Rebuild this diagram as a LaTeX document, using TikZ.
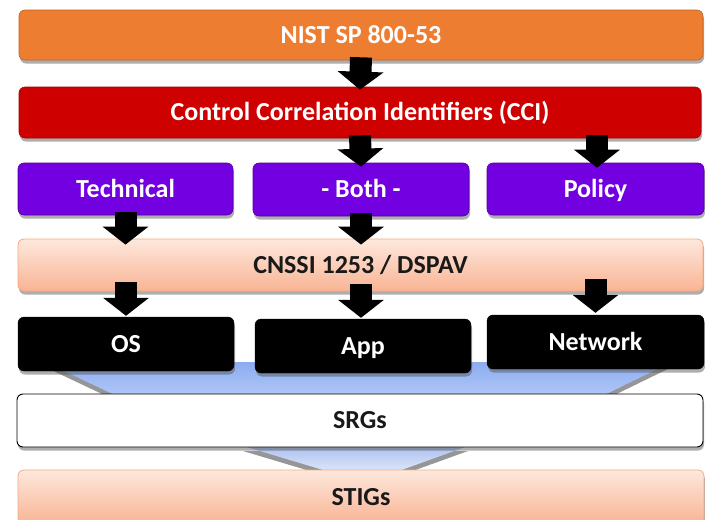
\documentclass[tikz,border=0pt]{standalone}
\usepackage{fontspec}
\setmainfont{Carlito}
\usetikzlibrary{arrows.meta,shadows,calc}
\definecolor{nistorange}{RGB}{237,125,49}
\definecolor{ccired}{RGB}{206,0,0}
\definecolor{purp}{RGB}{114,0,224}
\definecolor{salmontop}{RGB}{253,232,221}
\definecolor{salmonbot}{RGB}{249,180,148}
\definecolor{salmonedge}{RGB}{244,170,130}
\definecolor{bluetop}{RGB}{140,172,242}
\definecolor{bluebot}{RGB}{178,200,246}
\definecolor{blue2top}{RGB}{172,194,240}
\definecolor{blue2bot}{RGB}{222,230,250}
\definecolor{darktext}{RGB}{25,25,25}
\tikzset{
  shad/.style={drop shadow={shadow xshift=1pt,shadow yshift=-3.5pt,opacity=0.45,fill=black!70}},
  box/.style={rounded corners=6pt,shad,font=\fontsize{26}{30}\selectfont\bfseries,inner sep=0pt,text height=16.7pt,text depth=0pt},
  orangebox/.style={box,fill=nistorange,draw=nistorange!80!black,line width=0.6pt,text=white},
  redbox/.style={box,fill=ccired,draw=ccired!80!black,line width=0.6pt,text=white},
  purplebox/.style={box,fill=purp,draw=purp!70!black,line width=0.6pt,text=white},
  blackbox/.style={box,fill=black,draw=black,text=white},
  salmonbox/.style={box,top color=salmontop,bottom color=salmonbot,draw=salmonedge,line width=0.8pt,text=darktext},
  whitebox/.style={box,fill=white,draw=black,line width=0.9pt,text=darktext},
  blockarrow/.style={line width=22pt,draw=black,-{Triangle[width=45pt,length=18pt]}},
  funnel/.style={drop shadow={shadow xshift=0pt,shadow yshift=-5pt,opacity=0.55,fill=black!75}},
}
\begin{document}
\begin{tikzpicture}[x=1pt,y=-1pt]
\useasboundingbox (0,0) rectangle (705,520);
\clip (0,0) rectangle (705,520);
\fill[white] (0,0) rectangle (705,520);
% funnels
\shade[funnel,top color=bluetop,bottom color=bluebot] (45,362) -- (672,362) -- (600,397) -- (119,397) -- cycle;
\shade[funnel,top color=blue2top,bottom color=blue2bot] (243,446) -- (468,446) -- (396,472) -- (330,472) -- cycle;
% boxes
\node[orangebox,minimum width=684pt,minimum height=50pt] (nist) at (361,35) {NIST SP 800-53};
\node[redbox,minimum width=682pt,minimum height=51pt] (cci) at (360,112.5) {Control Correlation Identifiers (CCI)};
\node[purplebox,minimum width=215pt,minimum height=52pt] (tech) at (125.5,189) {Technical};
\node[purplebox,minimum width=216pt,minimum height=53pt] (both) at (361,189.5) {- Both -};
\node[purplebox,minimum width=217pt,minimum height=52pt] (policy) at (595.5,189) {Policy};
\node[salmonbox,minimum width=685pt,minimum height=52pt] (cnssi) at (360.5,265) {CNSSI 1253 / DSPAV};
\node[blackbox,minimum width=216pt,minimum height=54pt] (os) at (126,344) {OS};
\node[blackbox,minimum width=216pt,minimum height=54pt] (app) at (363,346) {App};
\node[blackbox,minimum width=217pt,minimum height=54pt] (net) at (595.5,342) {Network};
\node[whitebox,minimum width=686pt,minimum height=53pt] (srg) at (360,420.5) {SRGs};
\node[salmonbox,minimum width=686pt,minimum height=54pt] (stig) at (361,497) {STIGs};
% arrows
\draw[blockarrow] ([yshift=3pt]nist.south) -- ([yshift=-3pt]cci.north);
\draw[blockarrow] ([yshift=3pt]cci.south) -- ([yshift=-4pt]both.north);
\draw[blockarrow] ([xshift=1.5pt,yshift=3pt]policy.north |- cci.south) -- ([xshift=1.5pt,yshift=-5pt]policy.north);
\draw[blockarrow] ([yshift=3pt]tech.south) -- ([yshift=-6pt]tech.south |- cnssi.north);
\draw[blockarrow] ([yshift=3pt]both.south) -- ([yshift=-6pt]both.south |- cnssi.north);
\draw[blockarrow] ([yshift=9pt]os.north |- cnssi.south) -- ([yshift=1pt]os.north);
\draw[blockarrow] ([xshift=-2pt,yshift=7pt]app.north |- cnssi.south) -- ([xshift=-2pt,yshift=1pt]app.north);
\draw[blockarrow] ([yshift=12pt]net.north |- cnssi.south) -- ([yshift=2pt]net.north);
\end{tikzpicture}
\end{document}
